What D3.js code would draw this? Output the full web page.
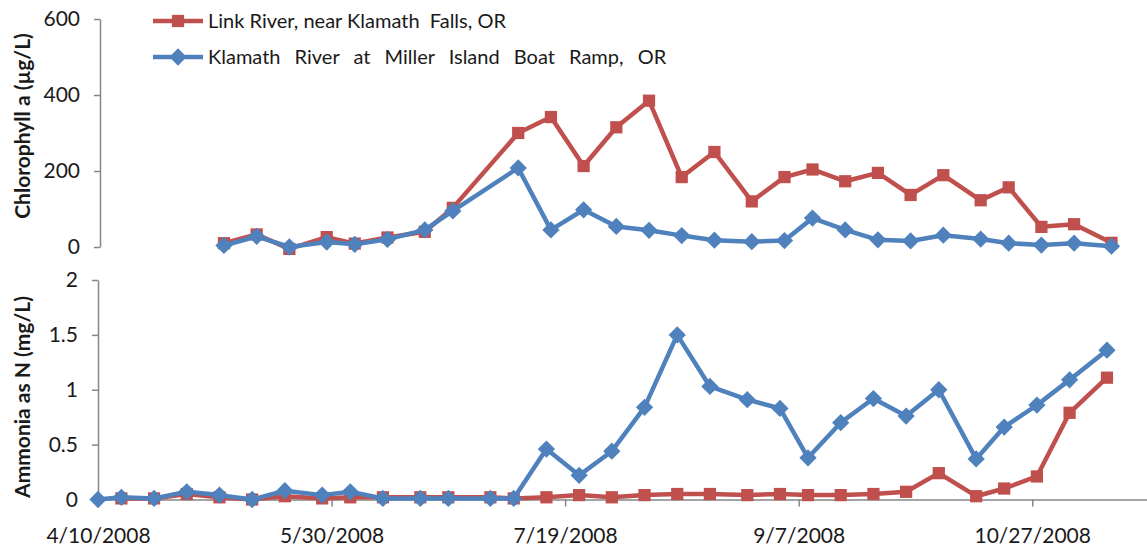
<!DOCTYPE html>
<html>
<head>
<meta charset="utf-8">
<script src="https://cdn.jsdelivr.net/npm/d3@7"></script>
<style>
  html, body { margin: 0; padding: 0; background: #fff; }
  svg { display: block; }
  text { font-family: Lato, "Open Sans", sans-serif; fill: #1a1a1a; }
</style>
</head>
<body>
<svg id="chart" width="1147" height="554"></svg>
<script>
// Sampling dates (2008)
const ammoniaDates = ["2008-04-10","2008-04-15","2008-04-22","2008-04-29","2008-05-06","2008-05-13","2008-05-20","2008-05-28","2008-06-03","2008-06-10","2008-06-18","2008-06-24","2008-07-03","2008-07-08","2008-07-15","2008-07-22","2008-07-29","2008-08-05","2008-08-12","2008-08-19","2008-08-27","2008-09-03","2008-09-09","2008-09-16","2008-09-23","2008-09-30","2008-10-07","2008-10-15","2008-10-21","2008-10-28","2008-11-04","2008-11-12"];
const chlDates = ["2008-05-06","2008-05-13","2008-05-20","2008-05-28","2008-06-03","2008-06-10","2008-06-18","2008-06-24","2008-07-08","2008-07-15","2008-07-22","2008-07-29","2008-08-05","2008-08-12","2008-08-19","2008-08-27","2008-09-03","2008-09-09","2008-09-16","2008-09-23","2008-09-30","2008-10-07","2008-10-15","2008-10-21","2008-10-28","2008-11-04","2008-11-12"];

// Chlorophyll a (µg/L)
const chlLink    = [10, 33, -5, 26, 9, 25, 40, 103, 300, 342, 213, 315, 385, 184, 250, 120, 184, 204, 173, 195, 137, 189, 123, 157, 53, 60, 11];
const chlKlamath = [4, 28, 0, 13, 7, 20, 45, 95, 208, 45, 98, 54, 44, 30, 18, 14, 17, 76, 45, 19, 16, 31, 21, 10, 5, 10, 2];

// Ammonia as N (mg/L); Link River starts one sample later
const nh3Link    = [null, 0.01, 0.01, 0.05, 0.02, 0.0, 0.03, 0.01, 0.02, 0.02, 0.02, 0.02, 0.02, 0.01, 0.02, 0.04, 0.02, 0.04, 0.05, 0.05, 0.04, 0.05, 0.04, 0.04, 0.05, 0.07, 0.24, 0.03, 0.10, 0.21, 0.79, 1.11];
const nh3Klamath = [0.0, 0.02, 0.01, 0.07, 0.04, 0.0, 0.08, 0.04, 0.07, 0.01, 0.01, 0.01, 0.01, 0.01, 0.46, 0.22, 0.44, 0.84, 1.50, 1.03, 0.91, 0.83, 0.38, 0.70, 0.92, 0.76, 1.00, 0.37, 0.66, 0.86, 1.09, 1.36];

const chlTicks = [0, 200, 400, 600];
const nh3Ticks = [0, 0.5, 1, 1.5, 2];
const dateTicks = ["2008-04-10","2008-05-30","2008-07-19","2008-09-07","2008-10-27"];

const seriesNames = ["Link River, near Klamath  Falls, OR", "Klamath River at Miller Island Boat Ramp, OR"];
const colors = ["#C0504D", "#4F81BD"];

const parse = d3.timeParse("%Y-%m-%d");
const fmt = d3.timeFormat("%-m/%-d/%Y");
const svg = d3.select("#chart");
const axisColor = "#868686";

const xDomain = [parse("2008-04-10"), parse("2008-11-21")];
const xBottom = d3.scaleTime().domain(xDomain).range([98, 1149]);
const xTop = d3.scaleTime().domain(xDomain).range([102.5, 1153.5]);

const yTop = d3.scaleLinear().domain([0, 600]).range([247, 19]);
const yBot = d3.scaleLinear().domain([0, 2]).range([499.5, 280]);

function styleAxis(g) {
  g.select(".domain").attr("stroke", axisColor).attr("stroke-width", 1.5);
  g.selectAll(".tick line").attr("stroke", axisColor).attr("stroke-width", 1.5);
  g.selectAll(".tick text").attr("fill", "#1a1a1a").style("font-size", "21px").style("font-family", "Lato, sans-serif");
}

// Y axes
svg.append("g").attr("transform", "translate(100,0)")
  .call(d3.axisLeft(yTop).tickValues(chlTicks).tickSize(6).tickSizeOuter(0).tickPadding(14))
  .call(styleAxis);
svg.append("g").attr("transform", "translate(98,0)")
  .call(d3.axisLeft(yBot).tickValues(nh3Ticks).tickFormat(d3.format("~g")).tickSize(6).tickSizeOuter(0).tickPadding(14))
  .call(styleAxis);

// X axis (bottom panel)
svg.append("g").attr("transform", `translate(0,${yBot(0)})`)
  .call(d3.axisBottom(xBottom).tickValues(dateTicks.map(parse)).tickFormat(fmt).tickSize(7).tickSizeOuter(0).tickPadding(22))
  .call(styleAxis);

// Axis titles
svg.append("text")
  .attr("transform", `translate(30,${(20 + 232) / 2}) rotate(-90)`)
  .attr("text-anchor", "middle")
  .style("font-size", "21px").style("font-weight", "bold")
  .text("Chlorophyll a (µg/L)");
svg.append("text")
  .attr("transform", `translate(30,${(282 + 512) / 2}) rotate(-90)`)
  .attr("text-anchor", "middle")
  .style("font-size", "21px").style("font-weight", "bold")
  .text("Ammonia as N (mg/L)");

// Marker symbols
const square = d3.symbol().type(d3.symbolSquare).size(150);
const diamond = d3.symbol().type(d3.symbolDiamond2).size(190);
const symbols = [square, diamond];

function drawSeries(xs, ys, dates, values, i) {
  const pts = dates.map((d, k) => ({ date: parse(d), v: values[k] })).filter(p => p.v !== null);
  const g = svg.append("g");
  g.append("path")
    .datum(pts)
    .attr("fill", "none")
    .attr("stroke", colors[i])
    .attr("stroke-width", 4.5)
    .attr("stroke-linejoin", "round")
    .attr("d", d3.line().x(p => xs(p.date)).y(p => ys(p.v)));
  g.selectAll("path.marker").data(pts).enter().append("path")
    .attr("class", "marker")
    .attr("transform", p => `translate(${xs(p.date)},${ys(p.v)})`)
    .attr("d", symbols[i])
    .attr("fill", colors[i]);
}

drawSeries(xTop, yTop, chlDates, chlLink, 0);
drawSeries(xTop, yTop, chlDates, chlKlamath, 1);
drawSeries(xBottom, yBot, ammoniaDates, nh3Link, 0);
drawSeries(xBottom, yBot, ammoniaDates, nh3Klamath, 1);

// Legend
const legend = svg.append("g");
const wordGaps = [0, 9];
seriesNames.forEach((name, i) => {
  const yy = 21 + i * 36;
  legend.append("line").attr("x1", 153).attr("x2", 203).attr("y1", yy).attr("y2", yy)
    .attr("stroke", colors[i]).attr("stroke-width", 4.5);
  legend.append("path").attr("transform", `translate(178,${yy})`).attr("d", symbols[i]).attr("fill", colors[i]);
  legend.append("text").attr("x", 208).attr("y", yy).attr("dy", "0.35em")
    .style("font-size", "20px").style("word-spacing", wordGaps[i] + "px")
    .style("white-space", "pre")
    .text(name);
});
</script>
</body>
</html>
